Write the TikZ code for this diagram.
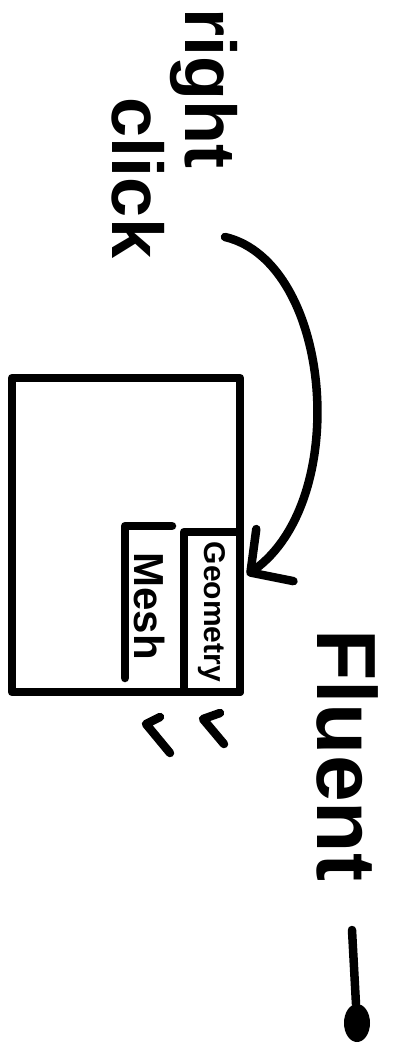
\documentclass[tikz,border=0pt]{standalone}
\usepackage{fontspec}
\setmainfont{Liberation Sans}
\usetikzlibrary{arrows.meta,shapes.geometric}
\tikzset{
  pen/.style={line width=8.5pt, line cap=round, line join=round, draw=black},
  boxnode/.style={pen, inner sep=0pt, outer sep=0pt},
  word/.style={rotate=-90, inner sep=0pt, font=\bfseries\fontsize{#1}{#1}\selectfont},
  marker arrow/.style={pen, -{Straight Barb[length=30pt,width=64pt,line width=8.5pt,round]}},
}
\begin{document}
\begin{tikzpicture}[x=1pt,y=-1pt]
\useasboundingbox (0,0) rectangle (409,1057);
% labels
\node[word=72] (rc1) at (204,88) {right};
\node[word=72] (rc2) at (138,178) {click};
% main window
\node[boxnode, minimum width=228pt, minimum height=314pt] (main) at (126,535) {};
% geometry panel
\node[boxnode, word=30, minimum width=160pt, minimum height=56pt] (geom) at (212,612) {Geometry};
% mesh panel
\node[word=42] (mesh) at (150,606) {Mesh};
\coordinate (mtr) at (172,526);
\coordinate (mtl) at (125,526);
\coordinate (mbl) at (125,678);
\draw[pen] (mtr) -- (mtl) -- (mbl);
% arrow
\coordinate (start) at (225,237);
\coordinate (tip) at (247,575);
\draw[marker arrow] (start) .. controls (332,262) and (352,500) .. (tip);
% ditto marks
\draw[pen] (160,717) -- (146,724) -- (170,753);
\draw[pen] (220,713) -- (203,719) -- (224,744);
% Fluent
\node[word=84] (fluent) at (348,755) {Fluent};
\coordinate (fl) at (352,930);
\node[ellipse, fill=black, minimum width=26pt, minimum height=38pt, inner sep=0pt] (dot) at (357,1023) {};
\draw[pen] (fl) -- (dot);
\end{tikzpicture}
\end{document}
